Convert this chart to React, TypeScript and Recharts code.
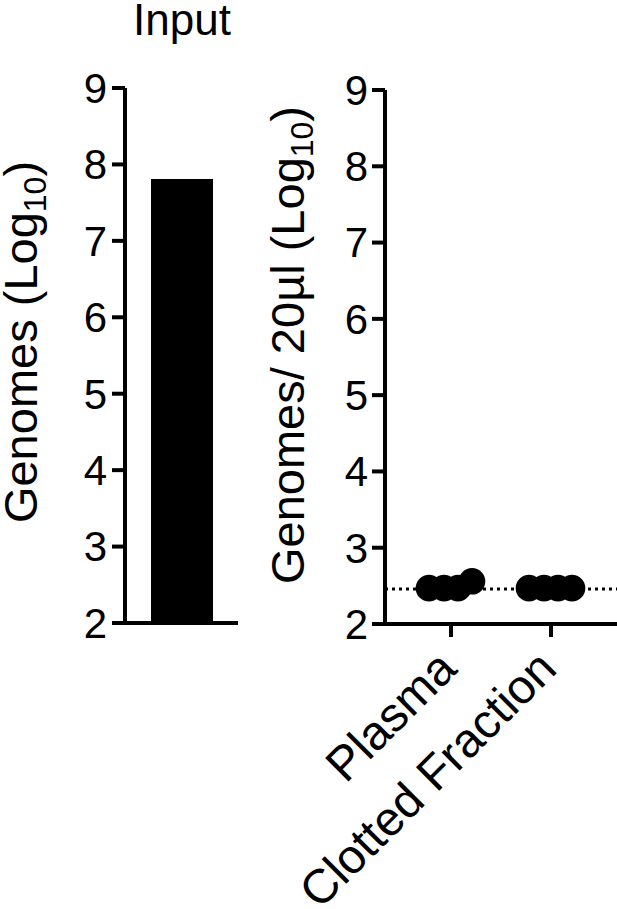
import React from 'react';
import {
  BarChart,
  Bar,
  ScatterChart,
  Scatter,
  XAxis,
  YAxis,
  ReferenceLine,
} from 'recharts';

const FONT = "Arial, 'Liberation Sans', Helvetica, sans-serif";

// left panel
const inputCategories = ['Input'];
const inputValues = [7.81];

// right panel
const groups = ['Plasma', 'Clotted Fraction'];
const plasmaValues = [2.47, 2.47, 2.47, 2.56];
const clottedValues = [2.47, 2.47, 2.47, 2.47];
const jitter = [-0.22, -0.07, 0.07, 0.21]; // horizontal spread of dots within a group
const detectionLimit = 2.46;

const yTicks = [2, 3, 4, 5, 6, 7, 8, 9];

const barData = inputCategories.map((name, i) => ({ name, value: inputValues[i] }));
const plasmaData = plasmaValues.map((v, i) => ({ x: 1 + jitter[i], y: v }));
const clottedData = clottedValues.map((v, i) => ({ x: 2 + jitter[i], y: v }));

const axisStroke = { stroke: '#000', strokeWidth: 4 };
const tickStyle = { fill: '#000', fontSize: 42, fontFamily: FONT };

const RotatedLabel = ({ x, y, text }: { x: number; y: number; text: string }) => (
  <text
    transform={`translate(${x}, ${y}) rotate(-90)`}
    textAnchor="middle"
    fontSize={47}
    fontFamily={FONT}
    fill="#000"
  >
    <tspan>{text} (Log</tspan>
    <tspan fontSize={32} dy={9}>10</tspan>
    <tspan dy={-9}>)</tspan>
  </text>
);

const GroupTick = (props: any) => {
  const { x, y, payload } = props;
  const tx = x + 8;
  const ty = y + 32;
  return (
    <text
      x={tx}
      y={ty}
      transform={`rotate(-45, ${tx}, ${ty})`}
      textAnchor="end"
      fontSize={48}
      fontFamily={FONT}
      fill="#000"
    >
      {groups[Math.round(payload.value) - 1]}
    </text>
  );
};

const Dot = (props: any) => <circle cx={props.cx} cy={props.cy} r={13.3} fill="#000" />;

export default function App() {
  return (
    <div style={{ position: 'absolute', left: 0, top: 0, width: 617, height: 909, background: '#fff' }}>
      <div style={{ position: 'absolute', left: 0, top: 0 }}>
        <BarChart width={260} height={909} data={barData} margin={{ top: 88, right: 22, bottom: 0, left: 0 }}>
          <XAxis dataKey="name" height={286} tick={false} tickLine={false} axisLine={axisStroke} />
          <YAxis
            type="number"
            domain={[2, 9]}
            ticks={yTicks}
            width={125}
            tickSize={13}
            tickMargin={5}
            axisLine={axisStroke}
            tickLine={axisStroke}
            tick={tickStyle}
            interval={0}
            label={{ content: () => <RotatedLabel x={37} y={342} text="Genomes" /> }}
          />
          <Bar dataKey="value" fill="#000" barSize={62} isAnimationActive={false} />
        </BarChart>
      </div>
      <div style={{ position: 'absolute', left: 0, top: 0 }}>
        <ScatterChart width={617} height={909} margin={{ top: 90, right: 0, bottom: 0, left: 0 }}>
          <XAxis
            type="number"
            dataKey="x"
            domain={[0.34, 2.66]}
            ticks={[1, 2]}
            height={285}
            tickSize={13}
            axisLine={axisStroke}
            tickLine={axisStroke}
            tick={<GroupTick />}
            interval={0}
            allowDataOverflow
          />
          <YAxis
            type="number"
            dataKey="y"
            domain={[2, 9]}
            ticks={yTicks}
            width={385}
            tickSize={13}
            tickMargin={4}
            axisLine={axisStroke}
            tickLine={axisStroke}
            tick={tickStyle}
            interval={0}
            allowDataOverflow
            label={{ content: () => <RotatedLabel x={304} y={345} text="Genomes/ 20µl" /> }}
          />
          <ReferenceLine y={detectionLimit} stroke="#000" strokeWidth={3} strokeDasharray="3 4" />
          <Scatter data={plasmaData} shape={<Dot />} isAnimationActive={false} />
          <Scatter data={clottedData} shape={<Dot />} isAnimationActive={false} />
        </ScatterChart>
      </div>
      <svg width={617} height={60} style={{ position: 'absolute', left: 0, top: 0 }}>
        <text x={182} y={35} textAnchor="middle" fontSize={44} fontFamily={FONT} fill="#000">
          Input
        </text>
      </svg>
    </div>
  );
}
